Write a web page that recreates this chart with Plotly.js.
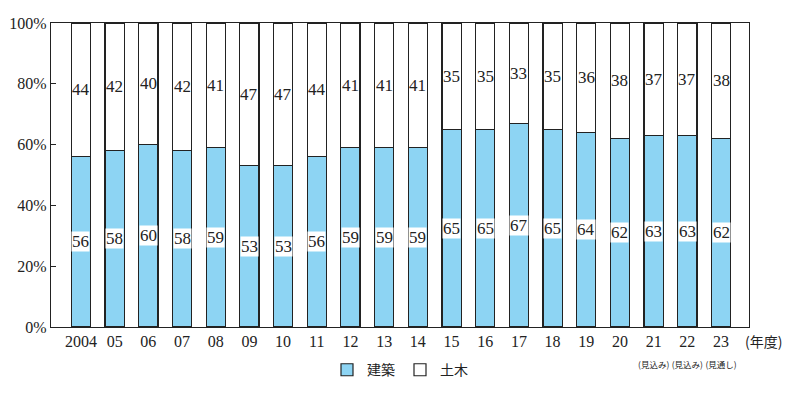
<!DOCTYPE html>
<html>
<head>
<meta charset="utf-8">
<script src="https://cdn.plot.ly/plotly-3.0.1.min.js"></script>
<style>body{margin:0;background:#fff;}#chart{width:800px;height:398px;}</style>
</head>
<body>
<div id="chart"></div>
<script>
const years = ["2004","05","06","07","08","09","10","11","12","13","14","15","16","17","18","19","20","21","22","23"];
const notes = ["","","","","","","","","","","","","","","","","","(見込み)","(見込み)","(見通し)"];
const kenchiku = [56,58,60,58,59,53,53,56,59,59,59,65,65,67,65,64,62,63,63,62];
const doboku   = [44,42,40,42,41,47,47,44,41,41,41,35,35,33,35,36,38,37,37,38];

const serif = "Times New Roman, Liberation Serif, DejaVu Serif, serif";
const cjk = "Noto Sans CJK JP, sans-serif";
const idx = years.map((_, i) => i);
const tickText = years.map((y, i) => notes[i] ? y + '<br><span style="font-size:8.5px;font-family:Noto Sans CJK JP">' + notes[i] + '</span>' : y);

const traces = [
  {type:'bar', name:'建築', x:idx, y:kenchiku, width:0.57,
   marker:{color:'#8DD4F3', line:{color:'#222', width:1.2}}, hoverinfo:'skip'},
  {type:'bar', name:'土木', x:idx, y:doboku, width:0.57,
   marker:{color:'#ffffff', line:{color:'#222', width:1.2}}, hoverinfo:'skip'}
];

const annotations = [];
idx.forEach(i => {
  annotations.push({x:i, y:kenchiku[i]/2, xref:'x', yref:'y', text:String(kenchiku[i]), showarrow:false,
    bgcolor:'#ffffff', borderpad:0, font:{family:serif, size:17, color:'#222'}});
  annotations.push({x:i, y:kenchiku[i] + doboku[i]/2, xref:'x', yref:'y', text:String(doboku[i]), showarrow:false,
    font:{family:serif, size:17, color:'#222'}});
});
annotations.push({x:0.992, y:-0.045, xref:'paper', yref:'paper', xanchor:'left', yanchor:'middle',
  text:'(年度)', showarrow:false, font:{family:cjk, size:14, color:'#222'}});

const layout = {
  width:800, height:398,
  margin:{l:51, r:51, t:23, b:64},
  paper_bgcolor:'#fff', plot_bgcolor:'#fff',
  barmode:'stack',
  showlegend:true,
  legend:{orientation:'h', traceorder:'normal', x:0.5, xanchor:'center', y:-0.142, yanchor:'middle',
    font:{family:cjk, size:14, color:'#222'}, itemwidth:30, tracegroupgap:0},
  xaxis:{range:[-0.89, 19.83], tickmode:'array', tickvals:idx, ticktext:tickText, tickangle:0,
    showline:true, linecolor:'#222', linewidth:1.2, mirror:true, ticks:'', showgrid:false, zeroline:false,
    tickfont:{family:serif, size:16, color:'#222'}, fixedrange:true},
  yaxis:{range:[0,100], tickvals:[0,20,40,60,80,100], ticktext:['0%','20%','40%','60%','80%','100%'],
    showline:true, linecolor:'#222', linewidth:1.2, mirror:true, ticks:'inside', ticklen:5, tickcolor:'#222',
    showgrid:false, zeroline:false, tickfont:{family:serif, size:16, color:'#222'}, fixedrange:true},
  annotations:annotations
};

Plotly.newPlot('chart', traces, layout, {displayModeBar:false, staticPlot:true});
</script>
</body>
</html>
